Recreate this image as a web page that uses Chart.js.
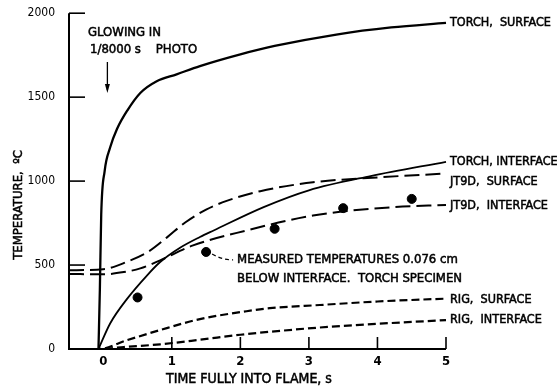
<!DOCTYPE html>
<html>
<head>
<meta charset="utf-8">
<script src="https://cdn.jsdelivr.net/npm/chart.js@4.4.1/dist/chart.umd.min.js"></script>
<style>
  html, body { margin: 0; padding: 0; background: #fff; }
  #wrap { width: 557px; height: 388px; }
</style>
</head>
<body>
<div id="wrap"><canvas id="myChart" width="557" height="388"></canvas></div>
<script>
// time, s  /  temperature, C
const torchSurfaceT = [-0.07, -0.05, -0.03, 0.02, 0.1, 0.2, 0.35, 0.54, 0.78, 1.07, 1.41, 2.0, 2.5, 3.4, 4.2, 5.0];
const torchSurfaceC = [0, 350, 800, 1060, 1200, 1310, 1420, 1525, 1595, 1636, 1685, 1755, 1805, 1873, 1915, 1942];

const torchInterfaceT = [-0.07, 0.1, 0.35, 0.64, 0.83, 1.12, 1.41, 1.61, 2.34, 3.0, 3.9, 5.0];
const torchInterfaceC = [0, 152, 300, 439, 518, 603, 667, 706, 845, 945, 1030, 1115];

const jt9dSurfaceT = [-0.5, 0, 0.35, 0.64, 0.93, 1.2, 1.5, 1.8, 2.29, 3.06, 4.0, 5.0];
const jt9dSurfaceC = [469, 475, 520, 575, 665, 755, 830, 882, 940, 993, 1022, 1045];

const jt9dInterfaceT = [-0.5, 0, 0.3, 0.54, 0.83, 1.31, 2.09, 3.06, 4.23, 5.0];
const jt9dInterfaceC = [447, 445, 458, 480, 528, 617, 706, 795, 845, 858];

const rigSurfaceT = [-0.5, -0.07, 0.35, 0.83, 1.41, 2.09, 2.43, 3.16, 4.0, 5.0];
const rigSurfaceC = [0, 0, 53, 113, 178, 225, 243, 262, 283, 300];

const rigInterfaceT = [-0.5, -0.07, 0.3, 0.83, 1.41, 2.0, 2.5, 3.16, 4.0, 5.0];
const rigInterfaceC = [0, 0, 12, 28, 55, 85, 105, 128, 150, 172];

const measuredT = [0.5, 1.5, 2.5, 3.5, 4.5];
const measuredC = [307, 578, 716, 839, 894];

const xTicks = [0, 1, 2, 3, 4, 5];
const yTicks = [0, 500, 1000, 1500, 2000];

const FONT = '"DejaVu Sans Condensed", sans-serif';

function pts(xs, ys) {
    return xs.map((x, i) => ({ x: x, y: ys[i] }));
}

function curve(label, xs, ys, width, dash, tagDy) {
    return {
        type: 'line',
        label: label,
        data: pts(xs, ys),
        borderColor: '#000',
        borderWidth: width,
        borderDash: dash,
        pointRadius: 0,
        fill: false,
        cubicInterpolationMode: 'monotone',
        clip: false,
        tagDy: tagDy
    };
}

// slightly heavier text, like the lettering on the scan
function say(ctx, text, x, y) {
    ctx.fillText(text, x, y);
    ctx.strokeText(text, x, y);
}

// axis lines, inward tick marks, end labels and notes
const paperPlugin = {
    id: 'paper',
    afterDatasetsDraw(chart) {
        const ctx = chart.ctx;
        const xs = chart.scales.x, ys = chart.scales.y;
        const x0 = xs.getPixelForValue(-0.5), x5 = xs.getPixelForValue(5);
        const yb = ys.getPixelForValue(0), yt = ys.getPixelForValue(2000);
        ctx.save();
        ctx.strokeStyle = '#000';
        ctx.fillStyle = '#000';
        ctx.lineWidth = 2;
        ctx.beginPath();
        ctx.moveTo(x0, yt);
        ctx.lineTo(x0, yb);
        ctx.lineTo(x5, yb);
        ctx.stroke();
        ctx.lineWidth = 1.6;
        yTicks.slice(1).forEach(v => {
            const py = ys.getPixelForValue(v);
            ctx.beginPath();
            ctx.moveTo(x0, py);
            ctx.lineTo(x0 + 16, py);
            ctx.stroke();
        });
        xTicks.slice(1).forEach(v => {
            const px = xs.getPixelForValue(v);
            ctx.beginPath();
            ctx.moveTo(px, yb);
            ctx.lineTo(px, yb - 12);
            ctx.stroke();
        });

        // labels at the end of each curve
        ctx.font = '12.5px ' + FONT;
        ctx.textAlign = 'left';
        ctx.textBaseline = 'middle';
        ctx.lineWidth = 0.5;
        chart.data.datasets.forEach(ds => {
            if (ds.type !== 'line') return;
            const last = ds.data[ds.data.length - 1];
            say(ctx, ds.label, xs.getPixelForValue(last.x) + 4, ys.getPixelForValue(last.y) + ds.tagDy);
        });

        // measured-temperature note with leader
        const dx = xs.getPixelForValue(measuredT[1]), dy = ys.getPixelForValue(measuredC[1]);
        ctx.lineWidth = 1.2;
        ctx.setLineDash([4, 3]);
        ctx.beginPath();
        ctx.moveTo(dx + 6, dy + 2);
        ctx.quadraticCurveTo(dx + 16, dy + 8, dx + 27, dy + 8);
        ctx.stroke();
        ctx.setLineDash([]);
        ctx.lineWidth = 0.5;
        ctx.font = '13px ' + FONT;
        say(ctx, 'MEASURED TEMPERATURES 0.076 cm', dx + 31, dy + 8);
        say(ctx, 'BELOW INTERFACE.  TORCH SPECIMEN', dx + 31, dy + 27);

        // glowing note with arrow
        const ax = xs.getPixelForValue(0.06);
        ctx.font = '13px ' + FONT;
        say(ctx, 'GLOWING IN', 88, 33);
        say(ctx, '1/8000 s    PHOTO', 90, 50);
        ctx.lineWidth = 1.3;
        ctx.beginPath();
        ctx.moveTo(ax, 62);
        ctx.lineTo(ax, 90);
        ctx.stroke();
        ctx.beginPath();
        ctx.moveTo(ax - 2.5, 84);
        ctx.lineTo(ax, 93);
        ctx.lineTo(ax + 2.5, 84);
        ctx.closePath();
        ctx.fill();

        // axis titles
        ctx.lineWidth = 0.5;
        ctx.font = '14px ' + FONT;
        ctx.textAlign = 'center';
        say(ctx, 'TIME FULLY INTO FLAME, s', 249, 379);
        ctx.font = '13px ' + FONT;
        ctx.translate(19, 205);
        ctx.rotate(-Math.PI / 2);
        say(ctx, 'TEMPERATURE,  \u00BAC', 0, 0);
        ctx.restore();
    }
};

const ctx = document.getElementById('myChart').getContext('2d');
const myChart = new Chart(ctx, {
    data: {
        datasets: [
            curve('TORCH,  SURFACE', torchSurfaceT, torchSurfaceC, 2.3, [], 0),
            curve('TORCH, INTERFACE', torchInterfaceT, torchInterfaceC, 1.8, [], 0),
            curve('JT9D,  SURFACE', jt9dSurfaceT, jt9dSurfaceC, 2, [15, 6], 8),
            curve('JT9D,  INTERFACE', jt9dInterfaceT, jt9dInterfaceC, 2, [15, 6], 1),
            curve('RIG,  SURFACE', rigSurfaceT, rigSurfaceC, 2.2, [8, 4], 1),
            curve('RIG,  INTERFACE', rigInterfaceT, rigInterfaceC, 2.2, [8, 4], 0),
            {
                type: 'scatter',
                label: 'measured',
                data: pts(measuredT, measuredC),
                pointRadius: 4.5,
                pointBackgroundColor: '#000',
                pointBorderColor: '#000',
                clip: false
            }
        ]
    },
    options: {
        responsive: false,
        animation: false,
        layout: { padding: { top: 12, right: 111, left: 0, bottom: 0 } },
        plugins: {
            legend: { display: false },
            tooltip: { enabled: false }
        },
        scales: {
            x: {
                type: 'linear',
                min: -0.5,
                max: 5,
                grid: { display: false },
                border: { display: false },
                afterBuildTicks: s => { s.ticks = xTicks.map(v => ({ value: v })); },
                afterFit: s => { s.height = 39; },
                ticks: {
                    color: '#000',
                    padding: -3,
                    maxRotation: 0,
                    font: { family: FONT, size: 13, weight: 'bold' }
                }
            },
            y: {
                type: 'linear',
                min: 0,
                max: 2000,
                grid: { display: false },
                border: { display: false },
                afterBuildTicks: s => { s.ticks = yTicks.map(v => ({ value: v })); },
                afterFit: s => { s.width = 69; },
                ticks: {
                    color: '#000',
                    padding: 6,
                    callback: v => String(v),
                    font: { family: FONT, size: 12 }
                }
            }
        }
    },
    plugins: [paperPlugin]
});
</script>
</body>
</html>
